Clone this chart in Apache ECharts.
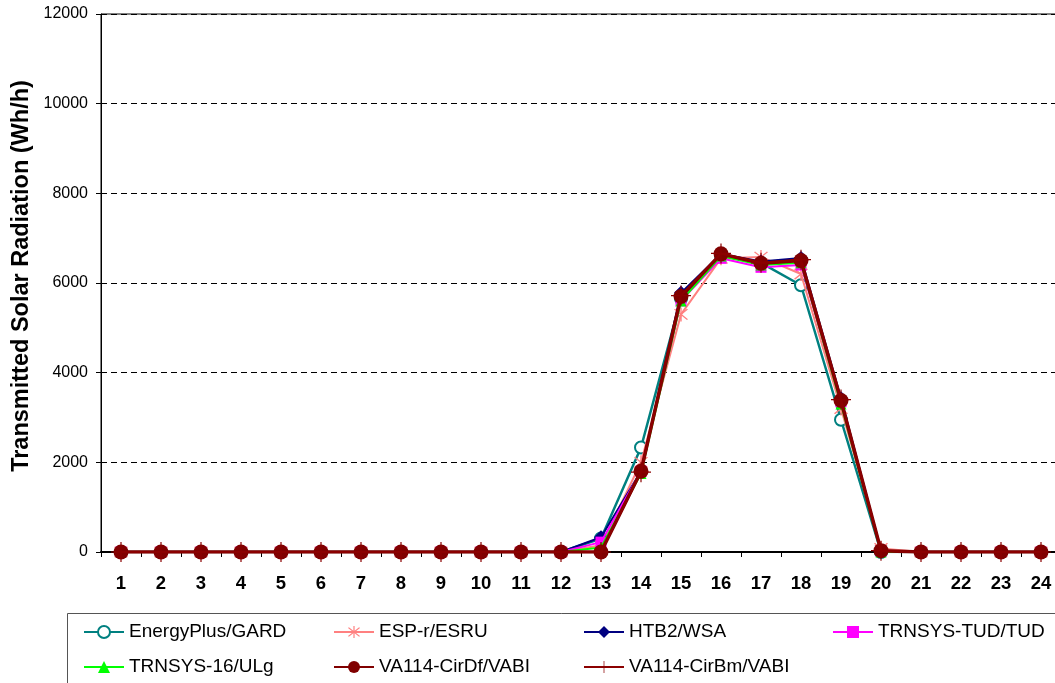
<!DOCTYPE html>
<html><head><meta charset="utf-8">
<script src="https://cdn.jsdelivr.net/npm/echarts@6/dist/echarts.min.js"></script>
<style>html,body{margin:0;padding:0;background:#fff}#c{width:1055px;height:683px}</style>
</head><body><div id="c"></div>
<script>
const hours = ['1','2','3','4','5','6','7','8','9','10','11','12','13','14','15','16','17','18','19','20','21','22','23','24'];
const yTicks = [0, 2000, 4000, 6000, 8000, 10000, 12000];
const yTitle = 'Transmitted Solar Radiation (Wh/h)';
const seriesNames = ['EnergyPlus/GARD','ESP-r/ESRU','HTB2/WSA','TRNSYS-TUD/TUD','TRNSYS-16/ULg','VA114-CirDf/VABI','VA114-CirBm/VABI'];
const energyPlus = [0,0,0,0,0,0,0,0,0,0,0,0,300,2330,5650,6600,6450,5950,2950,0,0,0,0,0];
const espr       = [0,0,0,0,0,0,0,0,0,0,0,0,150,2000,5300,6550,6580,6200,3200,80,0,0,0,0];
const htb2       = [0,0,0,0,0,0,0,0,0,0,0,0,330,1800,5780,6650,6480,6560,3430,30,0,0,0,0];
const trnsysTud  = [0,0,0,0,0,0,0,0,0,0,0,0,220,1800,5600,6550,6350,6400,3350,20,0,0,0,0];
const trnsys16   = [0,0,0,0,0,0,0,0,0,0,0,0,100,1750,5600,6600,6400,6450,3300,0,0,0,0,0];
const va114Df    = [0,0,0,0,0,0,0,0,0,0,0,0,0,1800,5700,6650,6440,6500,3380,30,0,0,0,0];
const va114Bm    = [0,0,0,0,0,0,0,0,0,0,0,0,0,1780,5720,6660,6450,6520,3400,30,0,0,0,0];

const asterisk = 'path://M-0.8,-10L0.8,-10L0.8,10L-0.8,10Z M-8,-6.8L-6.8,-8L8,6.8L6.8,8Z M8,-6.8L6.8,-8L-8,6.8L-6.8,8Z';
const plus = 'path://M-0.6,-10L0.6,-10L0.6,10L-0.6,10Z M-10,-0.6L10,-0.6L10,0.6L-10,0.6Z';

const styles = [
  {data: energyPlus, color:'#008080', symbol:'emptyCircle', size:12, width:2.5},
  {data: espr, color:'#FF8080', symbol:asterisk, size:14, width:2},
  {data: htb2, color:'#000080', symbol:'diamond', size:14, width:2},
  {data: trnsysTud, color:'#FF00FF', symbol:'rect', size:11, width:2},
  {data: trnsys16, color:'#00FF00', symbol:'triangle', size:11, width:2},
  {data: va114Df, color:'#800000', symbol:'circle', size:15, width:3.5},
  {data: va114Bm, color:'#8B0000', symbol:plus, size:20, width:2}
];

const series = styles.map((s,i)=>({
  name: seriesNames[i], type:'line', data: s.data,
  symbol: s.symbol, symbolSize: s.size, showAllSymbol:true,
  lineStyle:{color:s.color, width:s.width},
  itemStyle:{color: s.color, borderColor:s.color, borderWidth: s.symbol==='emptyCircle'?1.5:0},
  emphasis:{disabled:true}, animation:false, z: 2+i
}));

const legendPos = [[83,622],[333,622],[583,622],[832,622],[83,657],[333,657],[583,657]];
const legends = seriesNames.map((n,i)=>({
  data:[n], left: legendPos[i][0], top: legendPos[i][1], orient:'horizontal', padding:0,
  itemWidth: 40, itemHeight: 15, itemGap: 0,
  textStyle:{fontFamily:'Liberation Sans, Arial', fontSize:19, lineHeight:20, color:'#000', padding:[0,0,0,0]},
  selectedMode:false
}));

const chart = echarts.init(document.getElementById('c'), null, {renderer:'canvas'});
chart.setOption({
  animation:false,
  backgroundColor:'#fff',
  grid:{left:101, top:14, width:960, bottom:131, outerBoundsMode:'none', containLabel:false, show:true, borderColor:'#000', borderWidth:1, backgroundColor:'transparent'},
  xAxis:{type:'category', data:hours, boundaryGap:true,
    axisLine:{lineStyle:{color:'#000', width:2}},
    axisTick:{show:true, length:5, inside:false, alignWithLabel:false, lineStyle:{color:'#000'}},
    axisLabel:{fontFamily:'Liberation Sans, Arial', fontWeight:'bold', fontSize:18.5, color:'#000', margin:22, interval:0},
    splitLine:{show:false}},
  yAxis:{type:'value', min:yTicks[0], max:yTicks[yTicks.length-1], interval:2000,
    axisLine:{show:true, lineStyle:{color:'#000', width:1}},
    axisTick:{show:true, length:5, lineStyle:{color:'#000'}},
    axisLabel:{fontFamily:'Liberation Sans, Arial', fontSize:16, color:'#000', margin:13, formatter: v => String(v)},
    splitLine:{show:true, lineStyle:{color:'#000', type:[6,4], width:1}}},
  legend: legends,
  graphic:[
    {type:'rect', shape:{x:67.5, y:613.5, width:1000, height:80}, style:{fill:'none', stroke:'#555', lineWidth:1}, z:-1},
    {type:'text', x:22, y:276, rotation:Math.PI/2, style:{text:yTitle, font:'bold 23.5px "Liberation Sans", Arial', fill:'#000', align:'center', verticalAlign:'middle'}}
  ],
  series: series
});
</script></body></html>
